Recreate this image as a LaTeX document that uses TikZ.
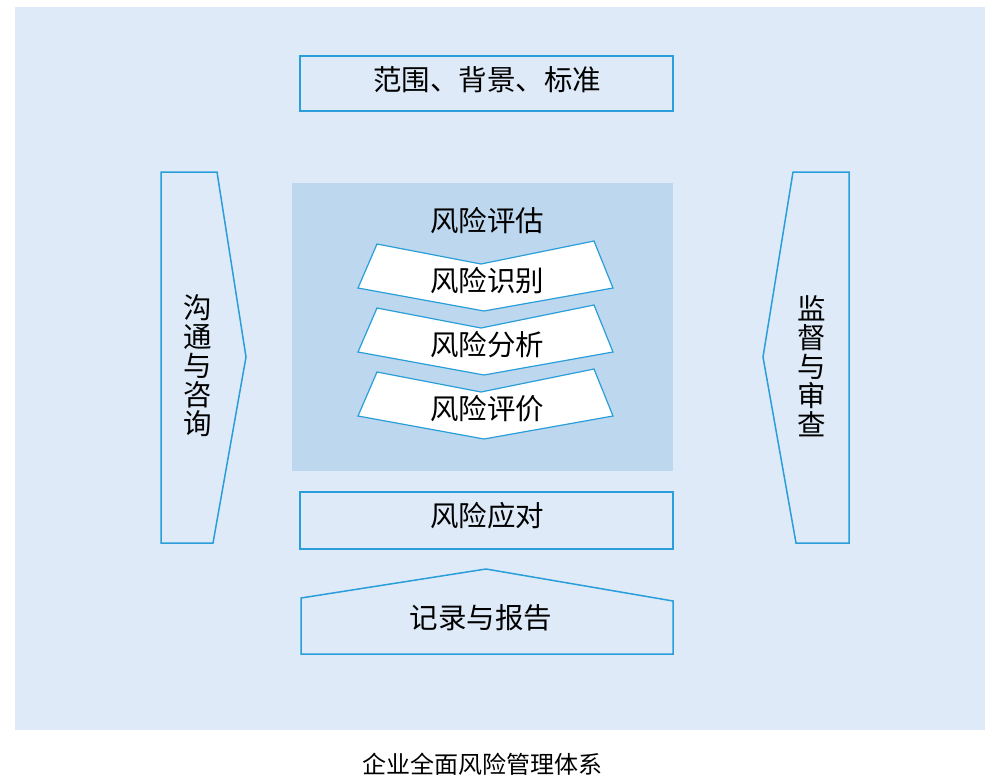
\documentclass[tikz,border=0pt]{standalone}
\usepackage{fontspec}
\setmainfont{Noto Sans CJK SC}
\definecolor{bgblue}{RGB}{222,234,248}
\definecolor{midblue}{RGB}{189,215,238}
\definecolor{lineblue}{RGB}{41,158,218}
\begin{document}
\begin{tikzpicture}[
  x=1pt, y=-1pt,
  frame/.style={draw=lineblue, line width=1.5pt},
  label/.style={font=\fontsize{28.5}{29}\selectfont, inner sep=0pt},
  sidelabel/.style={label, align=center},
]
\useasboundingbox (0,0) rectangle (985,777);
\fill[bgblue] (15,7) rectangle (985,730);
\fill[midblue] (292,183) rectangle (673,471);
\draw[frame] (300,56) rectangle (673,111);
\node[label] (scope) at (487,80) {范围、背景、标准};
\draw[frame] (161,172) -- (217,172) -- (246,357) -- (213,543) -- (161,543) -- cycle;
\node[sidelabel] (comm) at (198,366) {沟\\通\\与\\咨\\询};
\draw[frame] (793,172) -- (849,172) -- (849,543) -- (796,543) -- (763,357) -- cycle;
\node[sidelabel] (monitor) at (812,366) {监\\督\\与\\审\\查};
\node[label] (assess) at (487,221) {风险评估};
\foreach \name/\txt/\dy in {ident/风险识别/0, analys/风险分析/64, evalu/风险评价/128}{
  \draw[frame, line width=1.2pt, fill=white] (377,244+\dy) -- (481,264+\dy) -- (594,241+\dy)
    -- (613,288+\dy) -- (484,311+\dy) -- (358,288+\dy) -- cycle;
  \node[label] (\name) at (487,281+\dy) {\txt};
}
\draw[frame] (300,492) rectangle (673,549);
\node[label] (treat) at (487,516) {风险应对};
\draw[frame] (301,654) -- (301,598) -- (486,569) -- (673,601) -- (673,654) -- cycle;
\node[label] (record) at (481,618) {记录与报告};
\node[font=\fontsize{24}{26}\selectfont, inner sep=0pt] (caption) at (482,764) {企业全面风险管理体系};
\end{tikzpicture}
\end{document}
